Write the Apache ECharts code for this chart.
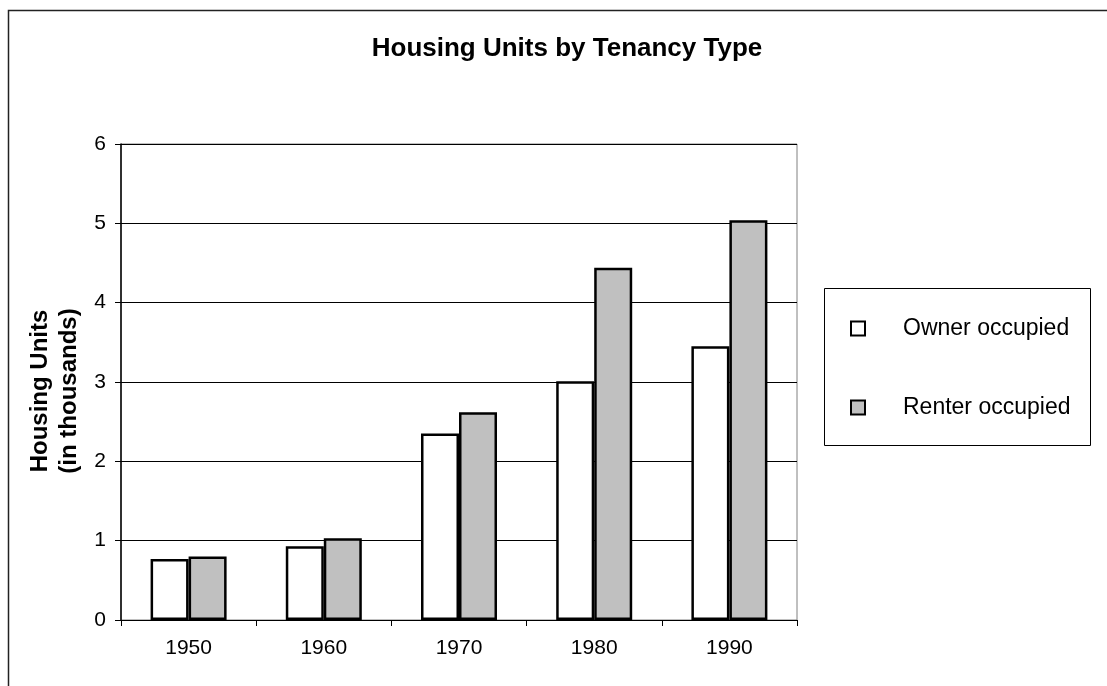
<!DOCTYPE html>
<html><head><meta charset="utf-8">
<script src="https://cdn.jsdelivr.net/npm/echarts@6/dist/echarts.min.js"></script>
<style>html,body{margin:0;padding:0;background:#fff}#c{width:1107px;height:686px}</style>
</head><body><div id="c"></div>
<script>
const categories = ['1950','1960','1970','1980','1990'];
const ownerOccupied = [0.77, 0.93, 2.35, 3.01, 3.45];
const renterOccupied = [0.80, 1.03, 2.62, 4.44, 5.04];
const seriesNames = ['Owner occupied','Renter occupied'];

const chart = echarts.init(document.getElementById('c'));
const font = 'Liberation Sans, Arial, sans-serif';
chart.setOption({
  animation: false,
  backgroundColor: '#fff',
  textStyle: {fontFamily: font},
  title: {
    text: 'Housing Units by Tenancy Type',
    left: 562, top: 31, textAlign: 'center',
    textStyle: {fontFamily: font, fontSize: 26, fontWeight: 'bold', color: '#000'}
  },
  graphic: [
    {type: 'rect', shape: {x: 8.5, y: 10.5, width: 1110, height: 700}, style: {fill: 'none', stroke: '#222', lineWidth: 1.5}, z: -1},
    {type: 'rect', shape: {x: 824.5, y: 288.5, width: 266, height: 157}, style: {fill: '#fff', stroke: '#000', lineWidth: 1}, z: -1}
  ],
  legend: {
    orient: 'vertical',
    left: 850, top: 317,
    itemWidth: 14, itemHeight: 14,
    itemGap: 56,
    icon: 'rect',
    padding: 0,
    textStyle: {fontFamily: font, fontSize: 23, lineHeight: 22, color: '#000', padding: [0, 0, 0, 33]},
    data: seriesNames
  },
  grid: {
    left: 121, right: 310, top: 144, bottom: 66,
    show: true, borderColor: '#808080', borderWidth: 1
  },
  xAxis: {
    type: 'category',
    data: categories,
    axisLine: {lineStyle: {color: '#000', width: 1}},
    axisTick: {show: true, length: 6, lineStyle: {color: '#000'}},
    axisLabel: {fontFamily: font, fontSize: 21, color: '#000', margin: 18}
  },
  yAxis: {
    type: 'value',
    min: 0, max: 6, interval: 1,
    name: 'Housing Units\n(in thousands)',
    nameLocation: 'middle',
    nameGap: 36,
    nameTextStyle: {fontFamily: font, fontSize: 24, fontWeight: 'bold', color: '#000', lineHeight: 29, padding: [0, 18, 0, 0]},
    axisLine: {show: true, lineStyle: {color: '#000', width: 1.5}},
    axisTick: {show: true, length: 6, lineStyle: {color: '#000'}},
    axisLabel: {fontFamily: font, fontSize: 21, color: '#000', margin: 15},
    splitLine: {show: true, lineStyle: {color: '#000', width: 1}}
  },
  series: [
    {name: seriesNames[0], type: 'bar', data: ownerOccupied, barWidth: 38, barGap: '0%',
     itemStyle: {color: '#fff', borderColor: '#000', borderWidth: 2.5}},
    {name: seriesNames[1], type: 'bar', data: renterOccupied, barWidth: 38, barGap: '0%',
     itemStyle: {color: '#c0c0c0', borderColor: '#000', borderWidth: 2.5}}
  ]
});
</script></body></html>
